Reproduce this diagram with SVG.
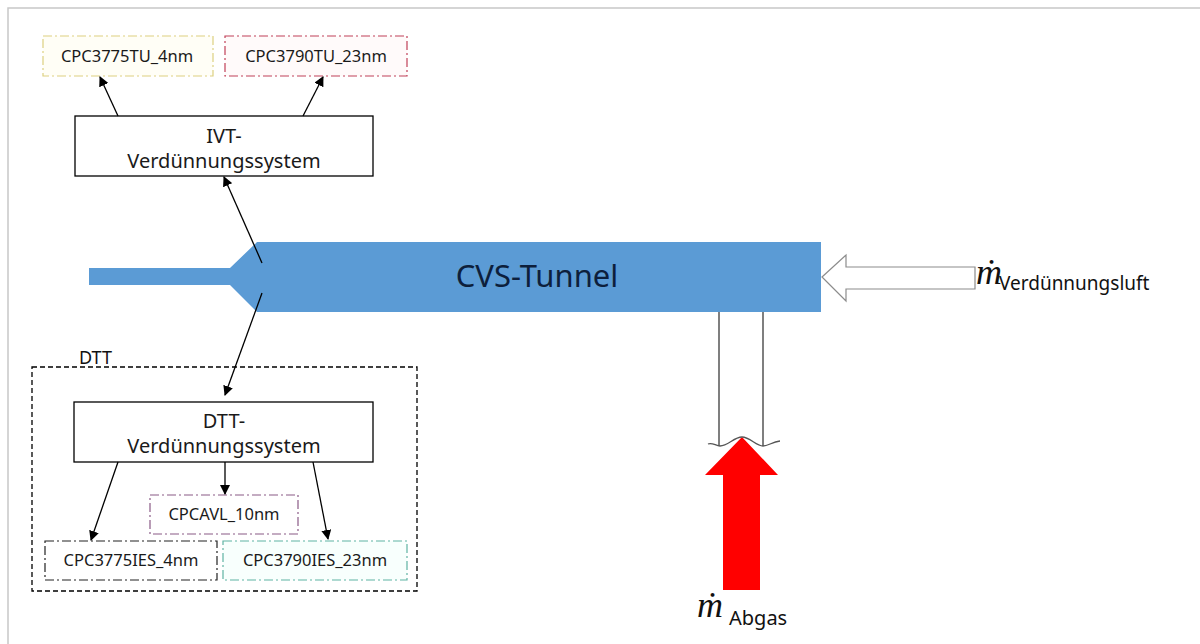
<svg xmlns="http://www.w3.org/2000/svg" width="1200" height="644" viewBox="0 0 1200 644">
  <defs>
    <marker id="ah" viewBox="0 0 10 10" refX="9" refY="5" markerWidth="10" markerHeight="10" markerUnits="userSpaceOnUse" orient="auto">
      <path d="M0,0 L10,5 L0,10 Z" fill="#000"/>
    </marker>
    <style>
      .box { fill: #fff; stroke: #000; stroke-width: 1.3; }
      .label { font-family: "Noto Sans", "Liberation Sans", sans-serif; fill: #1a1a1a; text-anchor: middle; }
      .big { font-size: 20px; }
      .small { font-size: 16.5px; }
      .dd { stroke-width: 1.2; stroke-dasharray: 9 3 2 3; }
      .conn { stroke: #000; stroke-width: 1.3; fill: none; marker-end: url(#ah); }
      .math { font-family: "Liberation Serif", "DejaVu Serif", serif; font-style: italic; fill: #111; }
      .sub { font-family: "Noto Sans", "Liberation Sans", sans-serif; fill: #111; }
    </style>
  </defs>

  <rect width="1200" height="644" fill="#fff"/>
  <!-- frame -->
  <path d="M8,644 L8,8 L1200,8" fill="none" stroke="#c8c8c8" stroke-width="1.5"/>

  <!-- tunnel body -->
  <g id="cvs-tunnel">
    <path d="M89,268 L230,268 L257,242 L821,242 L821,312 L257,312 L230,285 L89,285 Z" fill="#5b9bd5"/>
    <text x="537" y="287" class="label" style="font-size:31px;fill:#0d1f3c">CVS-Tunnel</text>
  </g>

  <!-- dilution air inlet -->
  <g id="dilution-air">
    <path d="M822,277 L846,255 L846,267 L975,267 L975,289 L846,289 L846,301 Z" fill="#fff" stroke="#8c8c8c" stroke-width="1.2"/>
    <text x="976" y="284" class="math" style="font-size:36px">ṁ</text>
    <text x="999" y="290" class="sub" style="font-size:19px">Verdünnungsluft</text>
  </g>

  <!-- exhaust inlet -->
  <g id="exhaust">
    <line x1="719" y1="312" x2="719" y2="446" stroke="#555" stroke-width="1.5"/>
    <line x1="763" y1="312" x2="763" y2="446" stroke="#555" stroke-width="1.5"/>
    <path d="M742,437 L778,475 L760,475 L760,590 L723,590 L723,475 L705,475 Z" fill="#ff0000"/>
    <path d="M708,444 C712,442 716,446 720,446 C728,446 734,437 742,437 C750,437 756,446 763,446 C768,446 772,442 780,441" fill="none" stroke="#555" stroke-width="1.3"/>
    <text x="697" y="617" class="math" style="font-size:36px">ṁ</text>
    <text x="729" y="625" class="sub" style="font-size:20px">Abgas</text>
  </g>

  <!-- IVT branch -->
  <g id="ivt">
    <rect x="75" y="116" width="298" height="60" class="box"/>
    <text x="224" y="143" class="label big">IVT-</text>
    <text x="224" y="168" class="label big">Verdünnungssystem</text>
  </g>
  <g id="cpc3775tu">
    <rect x="43" y="36" width="170" height="40" class="dd" fill="#fffef6" stroke="#ddd080"/>
    <text x="127" y="62" class="label small">CPC3775TU_4nm</text>
  </g>
  <g id="cpc3790tu">
    <rect x="225" y="36" width="182" height="40" class="dd" fill="#fffafa" stroke="#c04058"/>
    <text x="316" y="62" class="label small">CPC3790TU_23nm</text>
  </g>

  <!-- DTT branch -->
  <g id="dtt">
    <rect x="32" y="367" width="385" height="224" fill="none" stroke="#000" stroke-width="1.3" stroke-dasharray="5 3"/>
    <text x="79" y="364" class="sub" style="font-size:18px">DTT</text>
  </g>
  <g id="dtt-system">
    <rect x="74" y="402" width="299" height="60" class="box"/>
    <text x="224" y="428" class="label big">DTT-</text>
    <text x="224" y="453" class="label big">Verdünnungssystem</text>
  </g>
  <g id="cpcavl">
    <rect x="150" y="495" width="148" height="39" class="dd" fill="#fff" stroke="#8a5a86"/>
    <text x="224" y="520" class="label small">CPCAVL_10nm</text>
  </g>
  <g id="cpc3775ies">
    <rect x="45" y="541" width="172" height="39" class="dd" fill="#fff" stroke="#222"/>
    <text x="131" y="566" class="label small">CPC3775IES_4nm</text>
  </g>
  <g id="cpc3790ies">
    <rect x="223" y="541" width="184" height="39" class="dd" fill="#f8fffd" stroke="#5fb3a3"/>
    <text x="315" y="566" class="label small">CPC3790IES_23nm</text>
  </g>

  <!-- connectors -->
  <g id="connectors">
    <line x1="262" y1="263" x2="224" y2="177" class="conn"/>
    <line x1="262" y1="293" x2="225" y2="395" class="conn"/>
    <line x1="118" y1="116" x2="100" y2="77" class="conn"/>
    <line x1="303" y1="116" x2="323" y2="77" class="conn"/>
    <line x1="118" y1="462" x2="91" y2="540" class="conn"/>
    <line x1="225" y1="462" x2="225" y2="494" class="conn"/>
    <line x1="313" y1="462" x2="328" y2="539" class="conn"/>
  </g>
</svg>
